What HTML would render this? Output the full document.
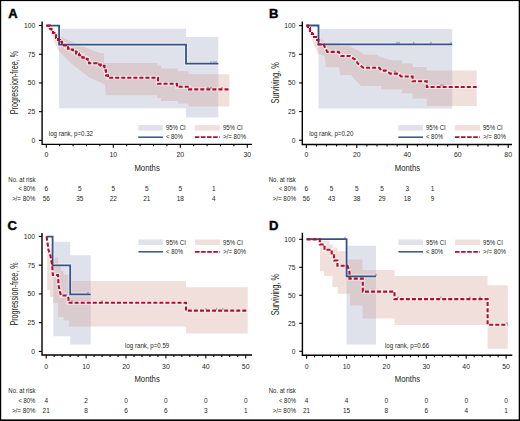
<!DOCTYPE html><html><head><meta charset="utf-8"><style>html,body{margin:0;padding:0;background:#fff;width:520px;height:421px;overflow:hidden}</style></head><body><svg width="520" height="421" viewBox="0 0 520 421" font-family='"Liberation Sans", sans-serif' style="display:block">
<rect x="0" y="0" width="520" height="421" fill="#fff"/>
<path d="M59.1,28.7 H186 V36.9 H218.3 V117.6 H186 V108.3 H59.1 Z" fill="#dfe2eb"/>
<path d="M48.5,25.6 L58,35 L66.8,39.5 L84.9,47.2 L99.1,52.8 L104,53.2 V62.9 H157 V65.7 H161 V68.5 H178 V71.3 H188.5 V74.2 H229.5 V106.5 H188.5 V103.4 H178 V101 H161 V98 H157 V95.2 H105.8 L104.8,84.6 L88.7,77 L72.5,64.7 L58.3,50.4 L49.7,31 L47,27 Z" fill="rgb(208,150,140)" fill-opacity="0.3"/>
<path d="M46.3,25.6 H59.1 V44.6 H186 V63.7 H218.3" fill="none" stroke="#fff" stroke-opacity="0.55" stroke-width="3.6"/>
<path d="M46.3,25.6 H50 V28.7 H51.5 V30.8 H53 V33 H54.5 V35.2 H56 V38 H58 V40 H60 V41.8 H62 V43.6 H64 V45.4 H66 V47.2 H68 V48.6 H70 V49.6 H73 V51.5 H76 V53.5 H79 V55.2 H82.4 V57.6 H86.7 V59 H87.7 V61 H89 V63.3 H97.6 V64.5 H100.7 V65.9 H104.5 V70.2 H106 V75.4 H107.9 V77.7 H158 V83.8 H177 V86.8 H189 V89.4 H229.5" fill="none" stroke="#fff" stroke-opacity="0.55" stroke-width="3.8"/>
<path d="M46.3,25.6 H59.1 V44.6 H186 V63.7 H218.3" fill="none" stroke="#34528a" stroke-width="1.8"/>
<path d="M46.3,25.6 H50 V28.7 H51.5 V30.8 H53 V33 H54.5 V35.2 H56 V38 H58 V40 H60 V41.8 H62 V43.6 H64 V45.4 H66 V47.2 H68 V48.6 H70 V49.6 H73 V51.5 H76 V53.5 H79 V55.2 H82.4 V57.6 H86.7 V59 H87.7 V61 H89 V63.3 H97.6 V64.5 H100.7 V65.9 H104.5 V70.2 H106 V75.4 H107.9 V77.7 H158 V83.8 H177 V86.8 H189 V89.4 H229.5" fill="none" stroke="#b00e30" stroke-width="2.1" stroke-dasharray="4,2.05"/>
<path d="M211,62.900000000000006 v-1.6" stroke="#34528a" stroke-width="0.7"/>
<path d="M214,62.900000000000006 v-1.6" stroke="#34528a" stroke-width="0.7"/>
<path d="M216,62.900000000000006 v-1.6" stroke="#34528a" stroke-width="0.7"/>
<path d="M208,88.60000000000001 v-1.6" stroke="#444" stroke-width="0.7"/>
<path d="M211,88.60000000000001 v-1.6" stroke="#444" stroke-width="0.7"/>
<path d="M222,88.60000000000001 v-1.6" stroke="#444" stroke-width="0.7"/>
<path d="M76,52.7 v-1.6" stroke="#444" stroke-width="0.7"/>
<path d="M77.5,52.7 v-1.6" stroke="#444" stroke-width="0.7"/>
<path d="M98,63.7 v-1.6" stroke="#444" stroke-width="0.7"/>
<path d="M42.1,21.5 V144.4 H252.0" fill="none" stroke="#000" stroke-width="1.4"/>
<path d="M38.9,140.40 H42.1" stroke="#000" stroke-width="1.1"/>
<text x="35.2" y="142.75" font-size="7.6" text-anchor="end" textLength="3.75" lengthAdjust="spacingAndGlyphs" fill="#231f20" stroke="#231f20" stroke-width="0.0">0</text>
<path d="M38.9,111.68 H42.1" stroke="#000" stroke-width="1.1"/>
<text x="35.2" y="114.03" font-size="7.6" text-anchor="end" textLength="7.5" lengthAdjust="spacingAndGlyphs" fill="#231f20" stroke="#231f20" stroke-width="0.0">25</text>
<path d="M38.9,82.95 H42.1" stroke="#000" stroke-width="1.1"/>
<text x="35.2" y="85.3" font-size="7.6" text-anchor="end" textLength="7.5" lengthAdjust="spacingAndGlyphs" fill="#231f20" stroke="#231f20" stroke-width="0.0">50</text>
<path d="M38.9,54.23 H42.1" stroke="#000" stroke-width="1.1"/>
<text x="35.2" y="56.58" font-size="7.6" text-anchor="end" textLength="7.5" lengthAdjust="spacingAndGlyphs" fill="#231f20" stroke="#231f20" stroke-width="0.0">75</text>
<path d="M38.9,25.50 H42.1" stroke="#000" stroke-width="1.1"/>
<text x="35.2" y="27.85" font-size="7.6" text-anchor="end" textLength="11.25" lengthAdjust="spacingAndGlyphs" fill="#231f20" stroke="#231f20" stroke-width="0.0">100</text>
<path d="M46.30,144.4 v3.4" stroke="#000" stroke-width="1.1"/>
<text x="46.3" y="157.3" font-size="7.6" text-anchor="middle" textLength="3.85" lengthAdjust="spacingAndGlyphs" fill="#231f20" stroke="#231f20" stroke-width="0.0">0</text>
<path d="M59.70,144.4 v1.9" stroke="#000" stroke-width="1.1"/>
<path d="M73.10,144.4 v1.9" stroke="#000" stroke-width="1.1"/>
<path d="M86.50,144.4 v1.9" stroke="#000" stroke-width="1.1"/>
<path d="M99.90,144.4 v1.9" stroke="#000" stroke-width="1.1"/>
<path d="M113.30,144.4 v3.4" stroke="#000" stroke-width="1.1"/>
<text x="113.3" y="157.3" font-size="7.6" text-anchor="middle" textLength="7.7" lengthAdjust="spacingAndGlyphs" fill="#231f20" stroke="#231f20" stroke-width="0.0">10</text>
<path d="M126.70,144.4 v1.9" stroke="#000" stroke-width="1.1"/>
<path d="M140.10,144.4 v1.9" stroke="#000" stroke-width="1.1"/>
<path d="M153.50,144.4 v1.9" stroke="#000" stroke-width="1.1"/>
<path d="M166.90,144.4 v1.9" stroke="#000" stroke-width="1.1"/>
<path d="M180.30,144.4 v3.4" stroke="#000" stroke-width="1.1"/>
<text x="180.3" y="157.3" font-size="7.6" text-anchor="middle" textLength="7.7" lengthAdjust="spacingAndGlyphs" fill="#231f20" stroke="#231f20" stroke-width="0.0">20</text>
<path d="M193.70,144.4 v1.9" stroke="#000" stroke-width="1.1"/>
<path d="M207.10,144.4 v1.9" stroke="#000" stroke-width="1.1"/>
<path d="M220.50,144.4 v1.9" stroke="#000" stroke-width="1.1"/>
<path d="M233.90,144.4 v1.9" stroke="#000" stroke-width="1.1"/>
<path d="M247.30,144.4 v3.4" stroke="#000" stroke-width="1.1"/>
<text x="247.3" y="157.3" font-size="7.6" text-anchor="middle" textLength="7.7" lengthAdjust="spacingAndGlyphs" fill="#231f20" stroke="#231f20" stroke-width="0.0">30</text>
<text x="8.3" y="17.9" font-size="13" font-weight="bold" fill="#000" stroke="#000" stroke-width="0.45">A</text>
<text x="147.1" y="170.8" font-size="9.4" text-anchor="middle" textLength="25.4" lengthAdjust="spacingAndGlyphs" fill="#231f20">Months</text>
<text transform="translate(18.1,82.6) rotate(-90)" x="0" y="0" font-size="10" text-anchor="middle" textLength="63.2" lengthAdjust="spacingAndGlyphs" fill="#231f20">Progression-free, %</text>
<text x="48.8" y="136.3" font-size="6.6" textLength="44.2" lengthAdjust="spacingAndGlyphs" fill="#231f20" stroke="#231f20" stroke-width="0.0">log rank, p=0.32</text>
<rect x="138.2" y="125.1" width="24.7" height="5.5" fill="#dfe2eb"/>
<rect x="194.79999999999998" y="125.1" width="25" height="5.5" fill="rgb(208,150,140)" fill-opacity="0.3"/>
<path d="M138.2,137.2 h24.7" stroke="#34528a" stroke-width="1.5"/>
<path d="M194.79999999999998,137.2 h25" stroke="#b00e30" stroke-width="1.7" stroke-dasharray="4.6,1.5"/>
<text x="165.9" y="130.0" font-size="6.6" textLength="19.8" lengthAdjust="spacingAndGlyphs" fill="#231f20" stroke="#231f20" stroke-width="0.0">95% CI</text>
<text x="222.9" y="130.0" font-size="6.6" textLength="19.8" lengthAdjust="spacingAndGlyphs" fill="#231f20" stroke="#231f20" stroke-width="0.0">95% CI</text>
<text x="165.9" y="139.4" font-size="6.6" textLength="17.0" lengthAdjust="spacingAndGlyphs" fill="#231f20" stroke="#231f20" stroke-width="0.0">&lt; 80%</text>
<text x="222.9" y="139.4" font-size="6.6" textLength="23.0" lengthAdjust="spacingAndGlyphs" fill="#231f20" stroke="#231f20" stroke-width="0.0">&gt;/= 80%</text>
<text x="8.3" y="181.6" font-size="6.4" textLength="27.1" lengthAdjust="spacingAndGlyphs" fill="#231f20" stroke="#231f20" stroke-width="0.0">No. at risk</text>
<text x="35.4" y="191.2" font-size="6.4" text-anchor="end" textLength="17.0" lengthAdjust="spacingAndGlyphs" fill="#231f20" stroke="#231f20" stroke-width="0.0">&lt; 80%</text>
<text x="35.4" y="200.85" font-size="6.4" text-anchor="end" textLength="23.5" lengthAdjust="spacingAndGlyphs" fill="#231f20" stroke="#231f20" stroke-width="0.0">&gt;/= 80%</text>
<text x="46.3" y="191.2" font-size="6.4" text-anchor="middle" textLength="3.6" lengthAdjust="spacingAndGlyphs" fill="#231f20" stroke="#231f20" stroke-width="0.0">6</text>
<text x="46.3" y="200.85" font-size="6.4" text-anchor="middle" textLength="7.2" lengthAdjust="spacingAndGlyphs" fill="#231f20" stroke="#231f20" stroke-width="0.0">56</text>
<text x="79.8" y="191.2" font-size="6.4" text-anchor="middle" textLength="3.6" lengthAdjust="spacingAndGlyphs" fill="#231f20" stroke="#231f20" stroke-width="0.0">5</text>
<text x="79.8" y="200.85" font-size="6.4" text-anchor="middle" textLength="7.2" lengthAdjust="spacingAndGlyphs" fill="#231f20" stroke="#231f20" stroke-width="0.0">35</text>
<text x="113.3" y="191.2" font-size="6.4" text-anchor="middle" textLength="3.6" lengthAdjust="spacingAndGlyphs" fill="#231f20" stroke="#231f20" stroke-width="0.0">5</text>
<text x="113.3" y="200.85" font-size="6.4" text-anchor="middle" textLength="7.2" lengthAdjust="spacingAndGlyphs" fill="#231f20" stroke="#231f20" stroke-width="0.0">22</text>
<text x="146.8" y="191.2" font-size="6.4" text-anchor="middle" textLength="3.6" lengthAdjust="spacingAndGlyphs" fill="#231f20" stroke="#231f20" stroke-width="0.0">5</text>
<text x="146.8" y="200.85" font-size="6.4" text-anchor="middle" textLength="7.2" lengthAdjust="spacingAndGlyphs" fill="#231f20" stroke="#231f20" stroke-width="0.0">21</text>
<text x="180.3" y="191.2" font-size="6.4" text-anchor="middle" textLength="3.6" lengthAdjust="spacingAndGlyphs" fill="#231f20" stroke="#231f20" stroke-width="0.0">5</text>
<text x="180.3" y="200.85" font-size="6.4" text-anchor="middle" textLength="7.2" lengthAdjust="spacingAndGlyphs" fill="#231f20" stroke="#231f20" stroke-width="0.0">18</text>
<text x="213.8" y="191.2" font-size="6.4" text-anchor="middle" textLength="3.6" lengthAdjust="spacingAndGlyphs" fill="#231f20" stroke="#231f20" stroke-width="0.0">1</text>
<text x="213.8" y="200.85" font-size="6.4" text-anchor="middle" textLength="3.6" lengthAdjust="spacingAndGlyphs" fill="#231f20" stroke="#231f20" stroke-width="0.0">4</text>
<path d="M318.5,29 H452.2 V108.4 H318.5 Z" fill="#dfe2eb"/>
<path d="M307,25.5 L318.5,36 L325,42.4 H340 V46.2 H349.8 L358.5,50.8 L364.6,54.8 H377 L379.4,56.8 L391.5,60.2 H401.9 V63.5 H412.6 V67 H426.8 V70.4 H476.7 V106 H426.8 V98.4 H412.6 V93.2 H401.9 V89.6 H381 V86 H361 L355,79.6 L351,75 H340.4 L338.8,67.3 H325.8 L325,56.5 L318,53.5 L307,28 Z" fill="rgb(208,150,140)" fill-opacity="0.3"/>
<path d="M306.3,25.5 H318.5 V44.3 H452.2" fill="none" stroke="#fff" stroke-opacity="0.55" stroke-width="3.6"/>
<path d="M306.3,25.6 H308 V28 H310 V31 H312 V34 H314 V37 H316 V40 H318.5 V44.5 H324.2 V46 L327.3,51.9 H338.8 L341.2,56 H349.8 L355.2,59.5 L357.9,63.6 L363.3,67.8 H379.4 L381.4,70.6 H386 L390.2,73.6 H398.3 L401,76.5 H412.6 V81.3 H426.8 V87 H476.7" fill="none" stroke="#fff" stroke-opacity="0.55" stroke-width="3.8"/>
<path d="M306.3,25.5 H318.5 V44.3 H452.2" fill="none" stroke="#34528a" stroke-width="1.8"/>
<path d="M306.3,25.6 H308 V28 H310 V31 H312 V34 H314 V37 H316 V40 H318.5 V44.5 H324.2 V46 L327.3,51.9 H338.8 L341.2,56 H349.8 L355.2,59.5 L357.9,63.6 L363.3,67.8 H379.4 L381.4,70.6 H386 L390.2,73.6 H398.3 L401,76.5 H412.6 V81.3 H426.8 V87 H476.7" fill="none" stroke="#b00e30" stroke-width="2.1" stroke-dasharray="4,2.05"/>
<path d="M397,43.5 v-1.6" stroke="#34528a" stroke-width="0.7"/>
<path d="M399,43.5 v-1.6" stroke="#34528a" stroke-width="0.7"/>
<path d="M413.8,43.5 v-1.6" stroke="#34528a" stroke-width="0.7"/>
<path d="M430.9,43.5 v-1.6" stroke="#34528a" stroke-width="0.7"/>
<path d="M451,43.5 v-1.6" stroke="#34528a" stroke-width="0.7"/>
<path d="M441,86.2 v-1.6" stroke="#444" stroke-width="0.7"/>
<path d="M443,86.2 v-1.6" stroke="#444" stroke-width="0.7"/>
<path d="M380,70.2 v-1.6" stroke="#444" stroke-width="0.7"/>
<path d="M395,72.2 v-1.6" stroke="#444" stroke-width="0.7"/>
<path d="M302.3,21.5 V144.5 H512.0" fill="none" stroke="#000" stroke-width="1.4"/>
<path d="M299.1,140.20 H302.3" stroke="#000" stroke-width="1.1"/>
<text x="295.40000000000003" y="142.55" font-size="7.6" text-anchor="end" textLength="3.75" lengthAdjust="spacingAndGlyphs" fill="#231f20" stroke="#231f20" stroke-width="0.0">0</text>
<path d="M299.1,111.55 H302.3" stroke="#000" stroke-width="1.1"/>
<text x="295.40000000000003" y="113.9" font-size="7.6" text-anchor="end" textLength="7.5" lengthAdjust="spacingAndGlyphs" fill="#231f20" stroke="#231f20" stroke-width="0.0">25</text>
<path d="M299.1,82.90 H302.3" stroke="#000" stroke-width="1.1"/>
<text x="295.40000000000003" y="85.25" font-size="7.6" text-anchor="end" textLength="7.5" lengthAdjust="spacingAndGlyphs" fill="#231f20" stroke="#231f20" stroke-width="0.0">50</text>
<path d="M299.1,54.25 H302.3" stroke="#000" stroke-width="1.1"/>
<text x="295.40000000000003" y="56.6" font-size="7.6" text-anchor="end" textLength="7.5" lengthAdjust="spacingAndGlyphs" fill="#231f20" stroke="#231f20" stroke-width="0.0">75</text>
<path d="M299.1,25.60 H302.3" stroke="#000" stroke-width="1.1"/>
<text x="295.40000000000003" y="27.95" font-size="7.6" text-anchor="end" textLength="11.25" lengthAdjust="spacingAndGlyphs" fill="#231f20" stroke="#231f20" stroke-width="0.0">100</text>
<path d="M306.30,144.5 v3.4" stroke="#000" stroke-width="1.1"/>
<text x="306.3" y="157.3" font-size="7.6" text-anchor="middle" textLength="3.85" lengthAdjust="spacingAndGlyphs" fill="#231f20" stroke="#231f20" stroke-width="0.0">0</text>
<path d="M316.40,144.5 v1.9" stroke="#000" stroke-width="1.1"/>
<path d="M326.49,144.5 v1.9" stroke="#000" stroke-width="1.1"/>
<path d="M336.59,144.5 v1.9" stroke="#000" stroke-width="1.1"/>
<path d="M346.68,144.5 v1.9" stroke="#000" stroke-width="1.1"/>
<path d="M356.78,144.5 v3.4" stroke="#000" stroke-width="1.1"/>
<text x="356.78" y="157.3" font-size="7.6" text-anchor="middle" textLength="7.7" lengthAdjust="spacingAndGlyphs" fill="#231f20" stroke="#231f20" stroke-width="0.0">20</text>
<path d="M366.88,144.5 v1.9" stroke="#000" stroke-width="1.1"/>
<path d="M376.97,144.5 v1.9" stroke="#000" stroke-width="1.1"/>
<path d="M387.07,144.5 v1.9" stroke="#000" stroke-width="1.1"/>
<path d="M397.16,144.5 v1.9" stroke="#000" stroke-width="1.1"/>
<path d="M407.26,144.5 v3.4" stroke="#000" stroke-width="1.1"/>
<text x="407.26" y="157.3" font-size="7.6" text-anchor="middle" textLength="7.7" lengthAdjust="spacingAndGlyphs" fill="#231f20" stroke="#231f20" stroke-width="0.0">40</text>
<path d="M417.36,144.5 v1.9" stroke="#000" stroke-width="1.1"/>
<path d="M427.45,144.5 v1.9" stroke="#000" stroke-width="1.1"/>
<path d="M437.55,144.5 v1.9" stroke="#000" stroke-width="1.1"/>
<path d="M447.64,144.5 v1.9" stroke="#000" stroke-width="1.1"/>
<path d="M457.74,144.5 v3.4" stroke="#000" stroke-width="1.1"/>
<text x="457.74" y="157.3" font-size="7.6" text-anchor="middle" textLength="7.7" lengthAdjust="spacingAndGlyphs" fill="#231f20" stroke="#231f20" stroke-width="0.0">60</text>
<path d="M467.84,144.5 v1.9" stroke="#000" stroke-width="1.1"/>
<path d="M477.93,144.5 v1.9" stroke="#000" stroke-width="1.1"/>
<path d="M488.03,144.5 v1.9" stroke="#000" stroke-width="1.1"/>
<path d="M498.12,144.5 v1.9" stroke="#000" stroke-width="1.1"/>
<path d="M508.22,144.5 v3.4" stroke="#000" stroke-width="1.1"/>
<text x="508.22" y="157.3" font-size="7.6" text-anchor="middle" textLength="7.7" lengthAdjust="spacingAndGlyphs" fill="#231f20" stroke="#231f20" stroke-width="0.0">80</text>
<text x="269.1" y="17.9" font-size="13" font-weight="bold" fill="#000" stroke="#000" stroke-width="0.45">B</text>
<text x="407.4" y="170.8" font-size="9.4" text-anchor="middle" textLength="25.4" lengthAdjust="spacingAndGlyphs" fill="#231f20">Months</text>
<text transform="translate(278.6,82.9) rotate(-90)" x="0" y="0" font-size="10" text-anchor="middle" textLength="41.4" lengthAdjust="spacingAndGlyphs" fill="#231f20">Surviving, %</text>
<text x="309.2" y="136.0" font-size="6.6" textLength="44.2" lengthAdjust="spacingAndGlyphs" fill="#231f20" stroke="#231f20" stroke-width="0.0">log rank, p=0.20</text>
<rect x="398.3" y="125.1" width="24.7" height="5.5" fill="#dfe2eb"/>
<rect x="454.90000000000003" y="125.1" width="25" height="5.5" fill="rgb(208,150,140)" fill-opacity="0.3"/>
<path d="M398.3,137.2 h24.7" stroke="#34528a" stroke-width="1.5"/>
<path d="M454.90000000000003,137.2 h25" stroke="#b00e30" stroke-width="1.7" stroke-dasharray="4.6,1.5"/>
<text x="426.0" y="130.0" font-size="6.6" textLength="19.8" lengthAdjust="spacingAndGlyphs" fill="#231f20" stroke="#231f20" stroke-width="0.0">95% CI</text>
<text x="483.0" y="130.0" font-size="6.6" textLength="19.8" lengthAdjust="spacingAndGlyphs" fill="#231f20" stroke="#231f20" stroke-width="0.0">95% CI</text>
<text x="426.0" y="139.4" font-size="6.6" textLength="17.0" lengthAdjust="spacingAndGlyphs" fill="#231f20" stroke="#231f20" stroke-width="0.0">&lt; 80%</text>
<text x="483.0" y="139.4" font-size="6.6" textLength="23.0" lengthAdjust="spacingAndGlyphs" fill="#231f20" stroke="#231f20" stroke-width="0.0">&gt;/= 80%</text>
<text x="268.7" y="181.6" font-size="6.4" textLength="27.1" lengthAdjust="spacingAndGlyphs" fill="#231f20" stroke="#231f20" stroke-width="0.0">No. at risk</text>
<text x="296.0" y="191.2" font-size="6.4" text-anchor="end" textLength="17.0" lengthAdjust="spacingAndGlyphs" fill="#231f20" stroke="#231f20" stroke-width="0.0">&lt; 80%</text>
<text x="296.0" y="200.85" font-size="6.4" text-anchor="end" textLength="23.5" lengthAdjust="spacingAndGlyphs" fill="#231f20" stroke="#231f20" stroke-width="0.0">&gt;/= 80%</text>
<text x="306.3" y="191.2" font-size="6.4" text-anchor="middle" textLength="3.6" lengthAdjust="spacingAndGlyphs" fill="#231f20" stroke="#231f20" stroke-width="0.0">6</text>
<text x="306.3" y="200.85" font-size="6.4" text-anchor="middle" textLength="7.2" lengthAdjust="spacingAndGlyphs" fill="#231f20" stroke="#231f20" stroke-width="0.0">56</text>
<text x="331.54" y="191.2" font-size="6.4" text-anchor="middle" textLength="3.6" lengthAdjust="spacingAndGlyphs" fill="#231f20" stroke="#231f20" stroke-width="0.0">5</text>
<text x="331.54" y="200.85" font-size="6.4" text-anchor="middle" textLength="7.2" lengthAdjust="spacingAndGlyphs" fill="#231f20" stroke="#231f20" stroke-width="0.0">43</text>
<text x="356.78" y="191.2" font-size="6.4" text-anchor="middle" textLength="3.6" lengthAdjust="spacingAndGlyphs" fill="#231f20" stroke="#231f20" stroke-width="0.0">5</text>
<text x="356.78" y="200.85" font-size="6.4" text-anchor="middle" textLength="7.2" lengthAdjust="spacingAndGlyphs" fill="#231f20" stroke="#231f20" stroke-width="0.0">38</text>
<text x="382.02" y="191.2" font-size="6.4" text-anchor="middle" textLength="3.6" lengthAdjust="spacingAndGlyphs" fill="#231f20" stroke="#231f20" stroke-width="0.0">5</text>
<text x="382.02" y="200.85" font-size="6.4" text-anchor="middle" textLength="7.2" lengthAdjust="spacingAndGlyphs" fill="#231f20" stroke="#231f20" stroke-width="0.0">29</text>
<text x="407.26" y="191.2" font-size="6.4" text-anchor="middle" textLength="3.6" lengthAdjust="spacingAndGlyphs" fill="#231f20" stroke="#231f20" stroke-width="0.0">3</text>
<text x="407.26" y="200.85" font-size="6.4" text-anchor="middle" textLength="7.2" lengthAdjust="spacingAndGlyphs" fill="#231f20" stroke="#231f20" stroke-width="0.0">18</text>
<text x="432.5" y="191.2" font-size="6.4" text-anchor="middle" textLength="3.6" lengthAdjust="spacingAndGlyphs" fill="#231f20" stroke="#231f20" stroke-width="0.0">1</text>
<text x="432.5" y="200.85" font-size="6.4" text-anchor="middle" textLength="3.6" lengthAdjust="spacingAndGlyphs" fill="#231f20" stroke="#231f20" stroke-width="0.0">9</text>
<path d="M53.4,241.8 H70.2 V255.2 H90.7 V344.5 H70.2 V336.3 H53.4 Z" fill="#dfe2eb"/>
<path d="M47.2,242 H50 V250.7 H53 V257.2 H58 V264 H61 V270.8 H63.5 V274.4 H69 V281 H186 V287.3 H247.7 V333.4 H186 V326.6 H69 V320.6 H63.5 V317 H58 V302.8 H53 V297 H50 V290 H47.2 Z" fill="rgb(208,150,140)" fill-opacity="0.3"/>
<path d="M46.3,236.6 H52.6 V265.3 H70.2 V294.4 H90.7" fill="none" stroke="#fff" stroke-opacity="0.55" stroke-width="3.6"/>
<path d="M46.6,236.6 L48.5,250 L50.5,256 L52.3,266 L52.8,275 H58 L58.5,285 L60,292 L61,295.5 H66.5 L68.5,298 V302.8 H186 V310.6 H247.7" fill="none" stroke="#fff" stroke-opacity="0.55" stroke-width="3.8"/>
<path d="M46.3,236.6 H52.6 V265.3 H70.2 V294.4 H90.7" fill="none" stroke="#34528a" stroke-width="1.8"/>
<path d="M46.6,236.6 L48.5,250 L50.5,256 L52.3,266 L52.8,275 H58 L58.5,285 L60,292 L61,295.5 H66.5 L68.5,298 V302.8 H186 V310.6 H247.7" fill="none" stroke="#b00e30" stroke-width="2.1" stroke-dasharray="4,2.05"/>
<path d="M72,302.0 v-1.6" stroke="#444" stroke-width="0.7"/>
<path d="M206,309.8 v-1.6" stroke="#444" stroke-width="0.7"/>
<path d="M216.6,309.8 v-1.6" stroke="#444" stroke-width="0.7"/>
<path d="M223,309.8 v-1.6" stroke="#444" stroke-width="0.7"/>
<path d="M88,293.59999999999997 v-1.6" stroke="#34528a" stroke-width="0.7"/>
<path d="M102,302.0 v-1.6" stroke="#444" stroke-width="0.7"/>
<path d="M42.0,233.0 V355.0 H252.0" fill="none" stroke="#000" stroke-width="1.4"/>
<path d="M38.8,351.40 H42.0" stroke="#000" stroke-width="1.1"/>
<text x="35.1" y="353.75" font-size="7.6" text-anchor="end" textLength="3.75" lengthAdjust="spacingAndGlyphs" fill="#231f20" stroke="#231f20" stroke-width="0.0">0</text>
<path d="M38.8,322.65 H42.0" stroke="#000" stroke-width="1.1"/>
<text x="35.1" y="325.0" font-size="7.6" text-anchor="end" textLength="7.5" lengthAdjust="spacingAndGlyphs" fill="#231f20" stroke="#231f20" stroke-width="0.0">25</text>
<path d="M38.8,293.90 H42.0" stroke="#000" stroke-width="1.1"/>
<text x="35.1" y="296.25" font-size="7.6" text-anchor="end" textLength="7.5" lengthAdjust="spacingAndGlyphs" fill="#231f20" stroke="#231f20" stroke-width="0.0">50</text>
<path d="M38.8,265.15 H42.0" stroke="#000" stroke-width="1.1"/>
<text x="35.1" y="267.5" font-size="7.6" text-anchor="end" textLength="7.5" lengthAdjust="spacingAndGlyphs" fill="#231f20" stroke="#231f20" stroke-width="0.0">75</text>
<path d="M38.8,236.40 H42.0" stroke="#000" stroke-width="1.1"/>
<text x="35.1" y="238.75" font-size="7.6" text-anchor="end" textLength="11.25" lengthAdjust="spacingAndGlyphs" fill="#231f20" stroke="#231f20" stroke-width="0.0">100</text>
<path d="M46.20,355.0 v3.4" stroke="#000" stroke-width="1.1"/>
<text x="46.2" y="368.7" font-size="7.6" text-anchor="middle" textLength="3.85" lengthAdjust="spacingAndGlyphs" fill="#231f20" stroke="#231f20" stroke-width="0.0">0</text>
<path d="M54.18,355.0 v1.9" stroke="#000" stroke-width="1.1"/>
<path d="M62.16,355.0 v1.9" stroke="#000" stroke-width="1.1"/>
<path d="M70.14,355.0 v1.9" stroke="#000" stroke-width="1.1"/>
<path d="M78.12,355.0 v1.9" stroke="#000" stroke-width="1.1"/>
<path d="M86.10,355.0 v3.4" stroke="#000" stroke-width="1.1"/>
<text x="86.1" y="368.7" font-size="7.6" text-anchor="middle" textLength="7.7" lengthAdjust="spacingAndGlyphs" fill="#231f20" stroke="#231f20" stroke-width="0.0">10</text>
<path d="M94.08,355.0 v1.9" stroke="#000" stroke-width="1.1"/>
<path d="M102.06,355.0 v1.9" stroke="#000" stroke-width="1.1"/>
<path d="M110.04,355.0 v1.9" stroke="#000" stroke-width="1.1"/>
<path d="M118.02,355.0 v1.9" stroke="#000" stroke-width="1.1"/>
<path d="M126.00,355.0 v3.4" stroke="#000" stroke-width="1.1"/>
<text x="126.0" y="368.7" font-size="7.6" text-anchor="middle" textLength="7.7" lengthAdjust="spacingAndGlyphs" fill="#231f20" stroke="#231f20" stroke-width="0.0">20</text>
<path d="M133.98,355.0 v1.9" stroke="#000" stroke-width="1.1"/>
<path d="M141.96,355.0 v1.9" stroke="#000" stroke-width="1.1"/>
<path d="M149.94,355.0 v1.9" stroke="#000" stroke-width="1.1"/>
<path d="M157.92,355.0 v1.9" stroke="#000" stroke-width="1.1"/>
<path d="M165.90,355.0 v3.4" stroke="#000" stroke-width="1.1"/>
<text x="165.9" y="368.7" font-size="7.6" text-anchor="middle" textLength="7.7" lengthAdjust="spacingAndGlyphs" fill="#231f20" stroke="#231f20" stroke-width="0.0">30</text>
<path d="M173.88,355.0 v1.9" stroke="#000" stroke-width="1.1"/>
<path d="M181.86,355.0 v1.9" stroke="#000" stroke-width="1.1"/>
<path d="M189.84,355.0 v1.9" stroke="#000" stroke-width="1.1"/>
<path d="M197.82,355.0 v1.9" stroke="#000" stroke-width="1.1"/>
<path d="M205.80,355.0 v3.4" stroke="#000" stroke-width="1.1"/>
<text x="205.8" y="368.7" font-size="7.6" text-anchor="middle" textLength="7.7" lengthAdjust="spacingAndGlyphs" fill="#231f20" stroke="#231f20" stroke-width="0.0">40</text>
<path d="M213.78,355.0 v1.9" stroke="#000" stroke-width="1.1"/>
<path d="M221.76,355.0 v1.9" stroke="#000" stroke-width="1.1"/>
<path d="M229.74,355.0 v1.9" stroke="#000" stroke-width="1.1"/>
<path d="M237.72,355.0 v1.9" stroke="#000" stroke-width="1.1"/>
<path d="M245.70,355.0 v3.4" stroke="#000" stroke-width="1.1"/>
<text x="245.7" y="368.7" font-size="7.6" text-anchor="middle" textLength="7.7" lengthAdjust="spacingAndGlyphs" fill="#231f20" stroke="#231f20" stroke-width="0.0">50</text>
<text x="7.6" y="229.6" font-size="13" font-weight="bold" fill="#000" stroke="#000" stroke-width="0.45">C</text>
<text x="147.1" y="381.7" font-size="9.4" text-anchor="middle" textLength="25.4" lengthAdjust="spacingAndGlyphs" fill="#231f20">Months</text>
<text transform="translate(18.1,294.0) rotate(-90)" x="0" y="0" font-size="10" text-anchor="middle" textLength="63.2" lengthAdjust="spacingAndGlyphs" fill="#231f20">Progression-free, %</text>
<text x="125.1" y="347.7" font-size="6.6" textLength="44.2" lengthAdjust="spacingAndGlyphs" fill="#231f20" stroke="#231f20" stroke-width="0.0">log rank, p=0.59</text>
<rect x="138.4" y="239.5" width="24.7" height="5.5" fill="#dfe2eb"/>
<rect x="195.0" y="239.5" width="25" height="5.5" fill="rgb(208,150,140)" fill-opacity="0.3"/>
<path d="M138.4,251.8 h24.7" stroke="#34528a" stroke-width="1.5"/>
<path d="M195.0,251.8 h25" stroke="#b00e30" stroke-width="1.7" stroke-dasharray="4.6,1.5"/>
<text x="166.1" y="244.9" font-size="6.6" textLength="19.8" lengthAdjust="spacingAndGlyphs" fill="#231f20" stroke="#231f20" stroke-width="0.0">95% CI</text>
<text x="223.1" y="244.9" font-size="6.6" textLength="19.8" lengthAdjust="spacingAndGlyphs" fill="#231f20" stroke="#231f20" stroke-width="0.0">95% CI</text>
<text x="166.1" y="254.25" font-size="6.6" textLength="17.0" lengthAdjust="spacingAndGlyphs" fill="#231f20" stroke="#231f20" stroke-width="0.0">&lt; 80%</text>
<text x="223.1" y="254.25" font-size="6.6" textLength="23.0" lengthAdjust="spacingAndGlyphs" fill="#231f20" stroke="#231f20" stroke-width="0.0">&gt;/= 80%</text>
<text x="8.3" y="393.2" font-size="6.4" textLength="27.1" lengthAdjust="spacingAndGlyphs" fill="#231f20" stroke="#231f20" stroke-width="0.0">No. at risk</text>
<text x="35.4" y="403.0" font-size="6.4" text-anchor="end" textLength="17.0" lengthAdjust="spacingAndGlyphs" fill="#231f20" stroke="#231f20" stroke-width="0.0">&lt; 80%</text>
<text x="35.4" y="412.65" font-size="6.4" text-anchor="end" textLength="23.5" lengthAdjust="spacingAndGlyphs" fill="#231f20" stroke="#231f20" stroke-width="0.0">&gt;/= 80%</text>
<text x="46.2" y="403.0" font-size="6.4" text-anchor="middle" textLength="3.6" lengthAdjust="spacingAndGlyphs" fill="#231f20" stroke="#231f20" stroke-width="0.0">4</text>
<text x="46.2" y="412.65" font-size="6.4" text-anchor="middle" textLength="7.2" lengthAdjust="spacingAndGlyphs" fill="#231f20" stroke="#231f20" stroke-width="0.0">21</text>
<text x="86.1" y="403.0" font-size="6.4" text-anchor="middle" textLength="3.6" lengthAdjust="spacingAndGlyphs" fill="#231f20" stroke="#231f20" stroke-width="0.0">2</text>
<text x="86.1" y="412.65" font-size="6.4" text-anchor="middle" textLength="3.6" lengthAdjust="spacingAndGlyphs" fill="#231f20" stroke="#231f20" stroke-width="0.0">8</text>
<text x="126.0" y="403.0" font-size="6.4" text-anchor="middle" textLength="3.6" lengthAdjust="spacingAndGlyphs" fill="#231f20" stroke="#231f20" stroke-width="0.0">0</text>
<text x="126.0" y="412.65" font-size="6.4" text-anchor="middle" textLength="3.6" lengthAdjust="spacingAndGlyphs" fill="#231f20" stroke="#231f20" stroke-width="0.0">6</text>
<text x="165.9" y="403.0" font-size="6.4" text-anchor="middle" textLength="3.6" lengthAdjust="spacingAndGlyphs" fill="#231f20" stroke="#231f20" stroke-width="0.0">0</text>
<text x="165.9" y="412.65" font-size="6.4" text-anchor="middle" textLength="3.6" lengthAdjust="spacingAndGlyphs" fill="#231f20" stroke="#231f20" stroke-width="0.0">6</text>
<text x="205.8" y="403.0" font-size="6.4" text-anchor="middle" textLength="3.6" lengthAdjust="spacingAndGlyphs" fill="#231f20" stroke="#231f20" stroke-width="0.0">0</text>
<text x="205.8" y="412.65" font-size="6.4" text-anchor="middle" textLength="3.6" lengthAdjust="spacingAndGlyphs" fill="#231f20" stroke="#231f20" stroke-width="0.0">3</text>
<text x="245.7" y="403.0" font-size="6.4" text-anchor="middle" textLength="3.6" lengthAdjust="spacingAndGlyphs" fill="#231f20" stroke="#231f20" stroke-width="0.0">0</text>
<text x="245.7" y="412.65" font-size="6.4" text-anchor="middle" textLength="3.6" lengthAdjust="spacingAndGlyphs" fill="#231f20" stroke="#231f20" stroke-width="0.0">1</text>
<path d="M346.6,245.7 H376 V344.5 H346.6 Z" fill="#dfe2eb"/>
<path d="M320,239.8 H329.3 V244.6 H333.1 V247.4 H337.4 V251.2 H346.6 V259.6 H362.4 V270 H394.5 V276 H487.6 V285.3 H507.8 V348.7 H487.6 V325 H394.5 V318.5 H362.6 V305.5 H350 V293.8 H337.7 V287 H332.3 V276 H324 V271.2 H320 Z" fill="rgb(208,150,140)" fill-opacity="0.3"/>
<path d="M306.6,239.2 H346.6 V276.4 H376" fill="none" stroke="#fff" stroke-opacity="0.55" stroke-width="3.6"/>
<path d="M306.6,239.4 H319.8 V244.5 H324.5 V249.8 H331.7 V255.2 H334 V260.5 H337.4 V265.8 H347.5 L349.5,272 V278.6 H362.8 V291.6 H394.5 V299.1 H487.6 V324.7 H507.8" fill="none" stroke="#fff" stroke-opacity="0.55" stroke-width="3.8"/>
<path d="M306.6,239.2 H346.6 V276.4 H376" fill="none" stroke="#34528a" stroke-width="1.8"/>
<path d="M306.6,239.4 H319.8 V244.5 H324.5 V249.8 H331.7 V255.2 H334 V260.5 H337.4 V265.8 H347.5 L349.5,272 V278.6 H362.8 V291.6 H394.5 V299.1 H487.6 V324.7 H507.8" fill="none" stroke="#b00e30" stroke-width="2.1" stroke-dasharray="4,2.05"/>
<path d="M376,275.59999999999997 v-1.6" stroke="#34528a" stroke-width="0.7"/>
<path d="M345,238.39999999999998 v-1.6" stroke="#34528a" stroke-width="0.7"/>
<path d="M398,298.3 v-1.6" stroke="#444" stroke-width="0.7"/>
<path d="M441,298.3 v-1.6" stroke="#444" stroke-width="0.7"/>
<path d="M470,298.3 v-1.6" stroke="#444" stroke-width="0.7"/>
<path d="M480,298.3 v-1.6" stroke="#444" stroke-width="0.7"/>
<path d="M507,323.9 v-1.6" stroke="#444" stroke-width="0.7"/>
<path d="M302.4,232.8 V355.3 H512.3" fill="none" stroke="#000" stroke-width="1.4"/>
<path d="M299.2,351.30 H302.4" stroke="#000" stroke-width="1.1"/>
<text x="295.5" y="353.65" font-size="7.6" text-anchor="end" textLength="3.75" lengthAdjust="spacingAndGlyphs" fill="#231f20" stroke="#231f20" stroke-width="0.0">0</text>
<path d="M299.2,323.30 H302.4" stroke="#000" stroke-width="1.1"/>
<text x="295.5" y="325.65" font-size="7.6" text-anchor="end" textLength="7.5" lengthAdjust="spacingAndGlyphs" fill="#231f20" stroke="#231f20" stroke-width="0.0">25</text>
<path d="M299.2,295.30 H302.4" stroke="#000" stroke-width="1.1"/>
<text x="295.5" y="297.65" font-size="7.6" text-anchor="end" textLength="7.5" lengthAdjust="spacingAndGlyphs" fill="#231f20" stroke="#231f20" stroke-width="0.0">50</text>
<path d="M299.2,267.30 H302.4" stroke="#000" stroke-width="1.1"/>
<text x="295.5" y="269.65" font-size="7.6" text-anchor="end" textLength="7.5" lengthAdjust="spacingAndGlyphs" fill="#231f20" stroke="#231f20" stroke-width="0.0">75</text>
<path d="M299.2,239.30 H302.4" stroke="#000" stroke-width="1.1"/>
<text x="295.5" y="241.65" font-size="7.6" text-anchor="end" textLength="11.25" lengthAdjust="spacingAndGlyphs" fill="#231f20" stroke="#231f20" stroke-width="0.0">100</text>
<path d="M306.60,355.3 v3.4" stroke="#000" stroke-width="1.1"/>
<text x="306.6" y="368.7" font-size="7.6" text-anchor="middle" textLength="3.85" lengthAdjust="spacingAndGlyphs" fill="#231f20" stroke="#231f20" stroke-width="0.0">0</text>
<path d="M314.58,355.3 v1.9" stroke="#000" stroke-width="1.1"/>
<path d="M322.56,355.3 v1.9" stroke="#000" stroke-width="1.1"/>
<path d="M330.54,355.3 v1.9" stroke="#000" stroke-width="1.1"/>
<path d="M338.52,355.3 v1.9" stroke="#000" stroke-width="1.1"/>
<path d="M346.50,355.3 v3.4" stroke="#000" stroke-width="1.1"/>
<text x="346.5" y="368.7" font-size="7.6" text-anchor="middle" textLength="7.7" lengthAdjust="spacingAndGlyphs" fill="#231f20" stroke="#231f20" stroke-width="0.0">10</text>
<path d="M354.48,355.3 v1.9" stroke="#000" stroke-width="1.1"/>
<path d="M362.46,355.3 v1.9" stroke="#000" stroke-width="1.1"/>
<path d="M370.44,355.3 v1.9" stroke="#000" stroke-width="1.1"/>
<path d="M378.42,355.3 v1.9" stroke="#000" stroke-width="1.1"/>
<path d="M386.40,355.3 v3.4" stroke="#000" stroke-width="1.1"/>
<text x="386.4" y="368.7" font-size="7.6" text-anchor="middle" textLength="7.7" lengthAdjust="spacingAndGlyphs" fill="#231f20" stroke="#231f20" stroke-width="0.0">20</text>
<path d="M394.38,355.3 v1.9" stroke="#000" stroke-width="1.1"/>
<path d="M402.36,355.3 v1.9" stroke="#000" stroke-width="1.1"/>
<path d="M410.34,355.3 v1.9" stroke="#000" stroke-width="1.1"/>
<path d="M418.32,355.3 v1.9" stroke="#000" stroke-width="1.1"/>
<path d="M426.30,355.3 v3.4" stroke="#000" stroke-width="1.1"/>
<text x="426.3" y="368.7" font-size="7.6" text-anchor="middle" textLength="7.7" lengthAdjust="spacingAndGlyphs" fill="#231f20" stroke="#231f20" stroke-width="0.0">30</text>
<path d="M434.28,355.3 v1.9" stroke="#000" stroke-width="1.1"/>
<path d="M442.26,355.3 v1.9" stroke="#000" stroke-width="1.1"/>
<path d="M450.24,355.3 v1.9" stroke="#000" stroke-width="1.1"/>
<path d="M458.22,355.3 v1.9" stroke="#000" stroke-width="1.1"/>
<path d="M466.20,355.3 v3.4" stroke="#000" stroke-width="1.1"/>
<text x="466.2" y="368.7" font-size="7.6" text-anchor="middle" textLength="7.7" lengthAdjust="spacingAndGlyphs" fill="#231f20" stroke="#231f20" stroke-width="0.0">40</text>
<path d="M474.18,355.3 v1.9" stroke="#000" stroke-width="1.1"/>
<path d="M482.16,355.3 v1.9" stroke="#000" stroke-width="1.1"/>
<path d="M490.14,355.3 v1.9" stroke="#000" stroke-width="1.1"/>
<path d="M498.12,355.3 v1.9" stroke="#000" stroke-width="1.1"/>
<path d="M506.10,355.3 v3.4" stroke="#000" stroke-width="1.1"/>
<text x="506.1" y="368.7" font-size="7.6" text-anchor="middle" textLength="7.7" lengthAdjust="spacingAndGlyphs" fill="#231f20" stroke="#231f20" stroke-width="0.0">50</text>
<text x="269.0" y="229.6" font-size="13" font-weight="bold" fill="#000" stroke="#000" stroke-width="0.45">D</text>
<text x="407.4" y="381.7" font-size="9.4" text-anchor="middle" textLength="25.4" lengthAdjust="spacingAndGlyphs" fill="#231f20">Months</text>
<text transform="translate(278.6,294.6) rotate(-90)" x="0" y="0" font-size="10" text-anchor="middle" textLength="41.4" lengthAdjust="spacingAndGlyphs" fill="#231f20">Surviving, %</text>
<text x="385.0" y="347.8" font-size="6.6" textLength="44.2" lengthAdjust="spacingAndGlyphs" fill="#231f20" stroke="#231f20" stroke-width="0.0">log rank, p=0.66</text>
<rect x="398.4" y="239.5" width="24.7" height="5.5" fill="#dfe2eb"/>
<rect x="455.0" y="239.5" width="25" height="5.5" fill="rgb(208,150,140)" fill-opacity="0.3"/>
<path d="M398.4,251.8 h24.7" stroke="#34528a" stroke-width="1.5"/>
<path d="M455.0,251.8 h25" stroke="#b00e30" stroke-width="1.7" stroke-dasharray="4.6,1.5"/>
<text x="426.1" y="244.9" font-size="6.6" textLength="19.8" lengthAdjust="spacingAndGlyphs" fill="#231f20" stroke="#231f20" stroke-width="0.0">95% CI</text>
<text x="483.1" y="244.9" font-size="6.6" textLength="19.8" lengthAdjust="spacingAndGlyphs" fill="#231f20" stroke="#231f20" stroke-width="0.0">95% CI</text>
<text x="426.1" y="254.25" font-size="6.6" textLength="17.0" lengthAdjust="spacingAndGlyphs" fill="#231f20" stroke="#231f20" stroke-width="0.0">&lt; 80%</text>
<text x="483.1" y="254.25" font-size="6.6" textLength="23.0" lengthAdjust="spacingAndGlyphs" fill="#231f20" stroke="#231f20" stroke-width="0.0">&gt;/= 80%</text>
<text x="268.7" y="393.2" font-size="6.4" textLength="27.1" lengthAdjust="spacingAndGlyphs" fill="#231f20" stroke="#231f20" stroke-width="0.0">No. at risk</text>
<text x="296.0" y="403.0" font-size="6.4" text-anchor="end" textLength="17.0" lengthAdjust="spacingAndGlyphs" fill="#231f20" stroke="#231f20" stroke-width="0.0">&lt; 80%</text>
<text x="296.0" y="412.65" font-size="6.4" text-anchor="end" textLength="23.5" lengthAdjust="spacingAndGlyphs" fill="#231f20" stroke="#231f20" stroke-width="0.0">&gt;/= 80%</text>
<text x="306.6" y="403.0" font-size="6.4" text-anchor="middle" textLength="3.6" lengthAdjust="spacingAndGlyphs" fill="#231f20" stroke="#231f20" stroke-width="0.0">4</text>
<text x="306.6" y="412.65" font-size="6.4" text-anchor="middle" textLength="7.2" lengthAdjust="spacingAndGlyphs" fill="#231f20" stroke="#231f20" stroke-width="0.0">21</text>
<text x="346.5" y="403.0" font-size="6.4" text-anchor="middle" textLength="3.6" lengthAdjust="spacingAndGlyphs" fill="#231f20" stroke="#231f20" stroke-width="0.0">4</text>
<text x="346.5" y="412.65" font-size="6.4" text-anchor="middle" textLength="7.2" lengthAdjust="spacingAndGlyphs" fill="#231f20" stroke="#231f20" stroke-width="0.0">15</text>
<text x="386.4" y="403.0" font-size="6.4" text-anchor="middle" textLength="3.6" lengthAdjust="spacingAndGlyphs" fill="#231f20" stroke="#231f20" stroke-width="0.0">0</text>
<text x="386.4" y="412.65" font-size="6.4" text-anchor="middle" textLength="3.6" lengthAdjust="spacingAndGlyphs" fill="#231f20" stroke="#231f20" stroke-width="0.0">8</text>
<text x="426.3" y="403.0" font-size="6.4" text-anchor="middle" textLength="3.6" lengthAdjust="spacingAndGlyphs" fill="#231f20" stroke="#231f20" stroke-width="0.0">0</text>
<text x="426.3" y="412.65" font-size="6.4" text-anchor="middle" textLength="3.6" lengthAdjust="spacingAndGlyphs" fill="#231f20" stroke="#231f20" stroke-width="0.0">6</text>
<text x="466.2" y="403.0" font-size="6.4" text-anchor="middle" textLength="3.6" lengthAdjust="spacingAndGlyphs" fill="#231f20" stroke="#231f20" stroke-width="0.0">0</text>
<text x="466.2" y="412.65" font-size="6.4" text-anchor="middle" textLength="3.6" lengthAdjust="spacingAndGlyphs" fill="#231f20" stroke="#231f20" stroke-width="0.0">4</text>
<text x="506.1" y="403.0" font-size="6.4" text-anchor="middle" textLength="3.6" lengthAdjust="spacingAndGlyphs" fill="#231f20" stroke="#231f20" stroke-width="0.0">0</text>
<text x="506.1" y="412.65" font-size="6.4" text-anchor="middle" textLength="3.6" lengthAdjust="spacingAndGlyphs" fill="#231f20" stroke="#231f20" stroke-width="0.0">1</text>
<rect x="0" y="0" width="1.2" height="421" fill="#000"/>
<rect x="0" y="0" width="520" height="1.1" fill="#000"/>
<rect x="518.7" y="0" width="1.3" height="421" fill="#000"/>
<rect x="0" y="419.4" width="520" height="1.6" fill="#000"/>
</svg></body></html>
